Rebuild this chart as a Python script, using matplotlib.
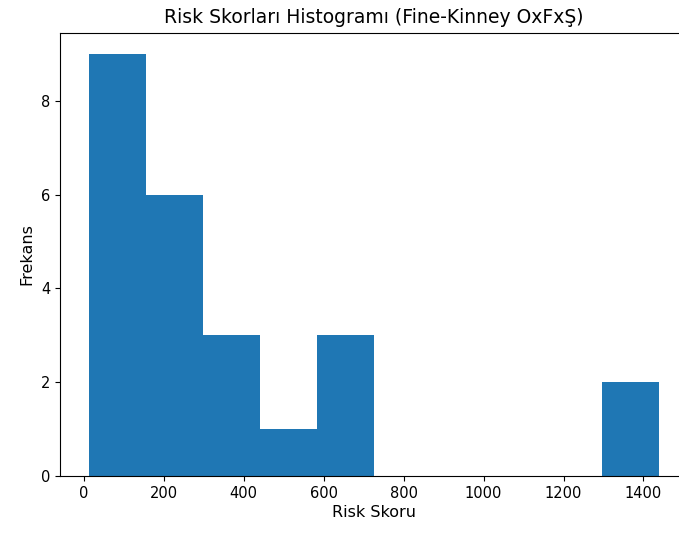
import matplotlib
matplotlib.use("Agg")
from matplotlib import pyplot as plt

# Fine-Kinney risk scores (O x F x S)
risk_scores = [
    12, 18, 30, 36, 60, 72, 90, 108, 120,
    160, 180, 200, 216, 240, 270,
    300, 360, 420,
    540,
    600, 630, 720,
    1350, 1440,
]
n_bins = 10

title = 'Risk Skorları Histogramı (Fine-Kinney OxFxŞ)'
x_label = 'Risk Skoru'
y_label = 'Frekans'

fig = plt.figure(figsize=(6.79, 5.36), dpi=100)
ax = fig.add_axes([60 / 679, 1 - 476 / 536, 628 / 679, 443 / 536])

ax.hist(risk_scores, bins=n_bins, color='#1f77b4')
ax.set_title(title, fontsize=13.5, pad=7)
ax.set_xlabel(x_label, fontsize=11.5, labelpad=3)
ax.set_ylabel(y_label, fontsize=11.5, labelpad=5)
ax.tick_params(labelsize=10.5)

fig.savefig('out.png', dpi=100)
plt.close(fig)
